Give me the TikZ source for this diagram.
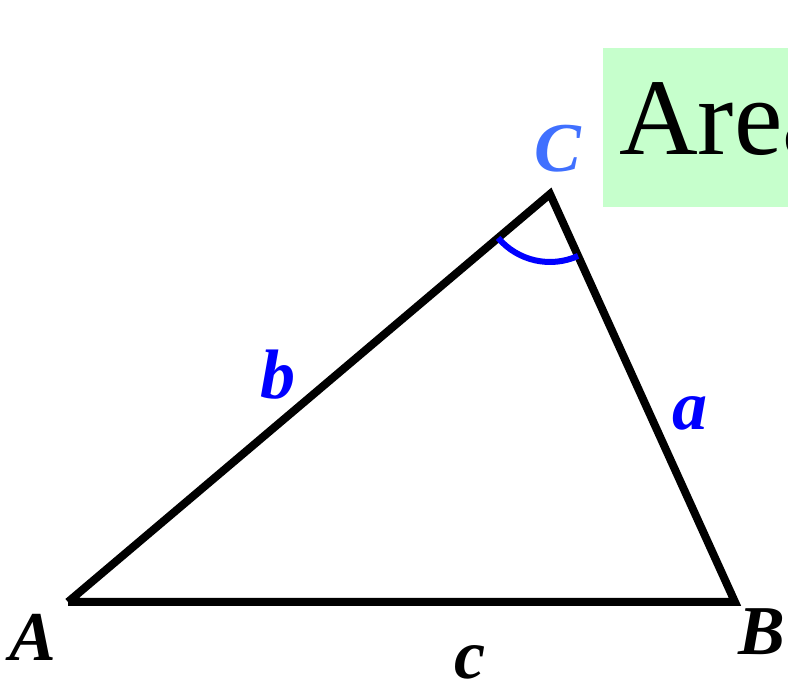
\documentclass[tikz,border=0pt]{standalone}
\usepackage{fontspec}
\setmainfont{Liberation Serif}
\usetikzlibrary{
  calc,
  positioning,
  angles,
  quotes
}
\definecolor{vertexblue}{RGB}{64,112,255}
\definecolor{areagreen}{RGB}{198,255,204}

\begin{document}
\begin{tikzpicture}[x=1pt,y=1pt]
  \tikzset{
    side/.style={line width=8pt},
    vlabel/.style={font=\fontsize{70}{70}\selectfont\bfseries\itshape, inner sep=0pt},
    slabel/.style={vlabel, text=blue},
  }
\useasboundingbox (0,0) rectangle (788,682);
\clip (0,0) rectangle (788,682);

\coordinate (A) at (68,80);
\coordinate (B) at (735,80);
\coordinate (C) at (550,488);

% area box
\fill[areagreen] (603,634) rectangle (800,475);
\node[font=\fontsize{109}{109}\selectfont, anchor=base west, inner sep=0pt] (area) at (619,527) {Area};

\draw[side] (A)--(C)--(B)--(A);
\pic[draw=blue, line width=6pt, angle radius=68pt] {angle=A--C--B};

\node[vlabel] (anode) at (33,45) {A};
\node[vlabel] (bnode) at (762,50) {B};
\node[vlabel, text=vertexblue] (cnode) at (558,533) {C};

\node[slabel] (aside) at (690,269) {a};
\node[slabel] (bside) at (278,307) {b};
\node[vlabel] (cside) at (470,20) {c};

\end{tikzpicture}
\end{document}
